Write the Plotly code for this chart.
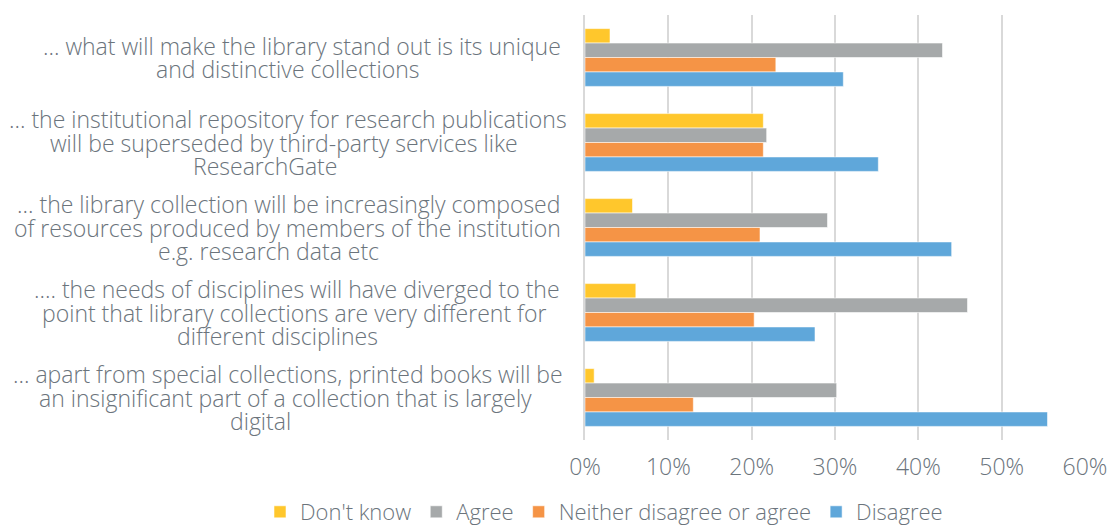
import plotly.graph_objects as go

categories = [
    "... what will make the library stand out is its unique<br>and distinctive collections",
    "... the institutional repository for research publications<br>will be superseded by third-party services like<br>ResearchGate",
    "… the library collection will be increasingly composed<br>of resources produced by members of the institution<br>e.g. research data etc",
    ".... the needs of disciplines will have diverged to the<br>point that library collections are very different for<br>different disciplines",
    "... apart from special collections, printed books will be<br>an insignificant part of a collection that is largely<br>digital",
]

series_names = ["Don't know", "Agree", "Neither disagree or agree", "Disagree"]
dont_know = [3.0, 21.4, 5.7, 6.1, 1.1]
agree = [42.9, 21.8, 29.1, 45.9, 30.2]
neither = [22.9, 21.4, 21.0, 20.3, 13.0]
disagree = [31.0, 35.2, 44.0, 27.6, 55.5]
tick_vals = [0, 10, 20, 30, 40, 50, 60]
tick_text = ["0%", "10%", "20%", "30%", "40%", "50%", "60%"]

# layout / style settings
colors = ["#FFC72C", "#A6A9AA", "#F59446", "#5FA7DA"]
label_line_centers = [  # pixel x centre of each wrapped label line
    [302, 288],
    [288, 284, 265],
    [288, 287, 268],
    [297, 294, 277],
    [288, 285, 260],
]
LINE_STEP = 23.5
W, H = 1110, 527
L, R, T, B = 585, 25, 15, 87
FS = 23
text_color = "#6B747C"
font_family = "'Open Sans', Lato, sans-serif"
plot_w = W - L - R
plot_h = H - T - B

fig = go.Figure()
for name, vals, col in zip(series_names, [dont_know, agree, neither, disagree], colors):
    fig.add_trace(go.Bar(
        y=categories, x=vals, name=name, orientation="h",
        marker=dict(color=col, line=dict(color="rgba(255,255,255,0.55)", width=1)),
    ))

for label, centers in zip(categories, label_line_centers):
    lines = label.split("<br>")
    n = len(lines)
    for i, (line, cx) in enumerate(zip(lines, centers)):
        fig.add_annotation(
            x=(cx - L) / plot_w, xref="paper", y=label, yref="y",
            text=line, showarrow=False, xanchor="center", yanchor="middle",
            yshift=((n - 1) / 2 - i) * LINE_STEP,
            font=dict(size=FS, color=text_color, family=font_family, weight=300),
        )

fig.update_layout(
    width=W, height=H,
    margin=dict(l=L, r=R, t=T, b=B, autoexpand=False),
    paper_bgcolor="white", plot_bgcolor="white",
    barmode="group", bargap=0.32, bargroupgap=0,
    font=dict(family=font_family, color=text_color, size=FS, weight=300),
    showlegend=True,
    legend=dict(
        orientation="h", xref="paper", yref="paper",
        x=(260 - L) / plot_w, xanchor="left",
        y=-(512 - (H - B)) / plot_h, yanchor="middle",
        font=dict(size=22, color=text_color, family=font_family, weight=300),
        itemwidth=30, tracegroupgap=0, traceorder="normal",
        bgcolor="rgba(0,0,0,0)",
    ),
)
fig.update_xaxes(
    range=[0, 60], tickvals=tick_vals, ticktext=tick_text,
    showgrid=True, gridcolor="#D9D9D9", gridwidth=1.5,
    zeroline=False, showline=False,
    tickfont=dict(size=FS, color=text_color, family=font_family, weight=300),
    ticks="", ticklabelstandoff=11,
)
fig.update_yaxes(
    autorange="reversed", showticklabels=False, showgrid=False,
    showline=True, linecolor="#D9D9D9", linewidth=1.5, ticks="",
)

fig.write_html("out.html", config={"displayModeBar": False},
               post_script="document.body.style.margin='0';")
